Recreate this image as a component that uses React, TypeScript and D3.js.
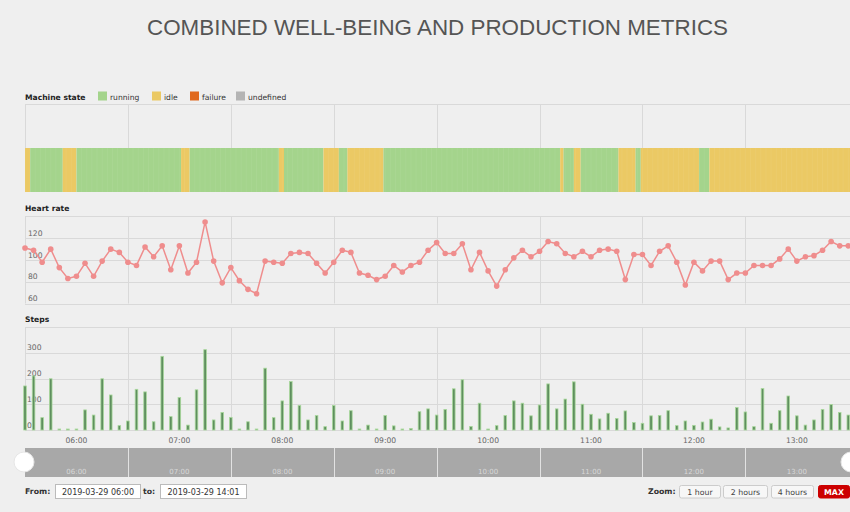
import React from 'react';
import * as d3 from 'd3';

const W = 850;
const H = 512;
const START = new Date(2019, 2, 29, 6, 0);
const END = new Date(2019, 2, 29, 14, 1);
const STEP_MIN = 5;

const heartRate = [111, 109, 98, 110, 93, 83, 85, 97, 85, 99, 110, 107, 98, 95, 112, 103, 113, 91, 113, 88, 98, 135, 99, 79, 93, 81, 73, 69, 99, 98, 97, 106, 107, 106, 97, 88, 98, 109, 107, 88, 86, 82, 85, 95, 89, 95, 98, 109, 116, 106, 106, 115, 91, 107, 90, 76, 91, 102, 109, 103, 108, 117, 115, 106, 103, 108, 103, 109, 110, 108, 82, 105, 105, 95, 108, 113, 98, 77, 98, 90, 99, 99, 82, 88, 88, 95, 95, 95, 101, 110, 99, 103, 104, 109, 117, 113, 113];

const steps = [171, 210, 48, 199, 0, 0, 0, 78, 58, 199, 136, 17, 35, 158, 148, 32, 286, 52, 126, 19, 156, 312, 39, 68, 49, 0, 32, 0, 240, 48, 113, 188, 95, 39, 56, 13, 95, 35, 75, 0, 19, 0, 56, 16, 0, 6, 71, 82, 58, 80, 160, 195, 14, 104, 0, 17, 56, 113, 104, 55, 97, 179, 82, 120, 187, 100, 61, 43, 65, 45, 74, 29, 26, 55, 56, 75, 17, 35, 18, 31, 42, 12, 8, 87, 70, 13, 161, 26, 75, 132, 55, 19, 39, 80, 99, 68, 58];

// machine state segments: start minute after 06:00 and state
const stateStartMinutes = [0, 3, 22, 30, 91, 96, 148, 151, 174, 183, 188, 209, 312, 314, 320, 324, 346, 356, 359, 393, 399];
const stateValues = ['idle', 'running', 'idle', 'running', 'idle', 'running', 'idle', 'running', 'idle', 'running', 'idle', 'running', 'idle', 'running', 'idle', 'running', 'idle', 'running', 'idle', 'running', 'idle'];

const legendStates = ['running', 'idle', 'failure', 'undefined'];
const stateColors = ['#a4d48c', '#ebc964', '#e0691e', '#b4b4b4'];

const hrTicks = [60, 80, 100, 120];
const stepTicks = [0, 100, 200, 300];
const zoomButtons = ['1 hour', '2 hours', '4 hours', 'MAX'];
const fromText = '2019-03-29 06:00';
const toText = '2019-03-29 14:01';
const titleText = 'COMBINED WELL-BEING AND PRODUCTION METRICS';

const FONT = '"DejaVu Sans", Verdana, sans-serif';

export default function App() {
  const x = d3.scaleTime().domain([START, END]).range([25, 850]);
  const timeAt = (m: number) => d3.timeMinute.offset(START, m);
  const hours = d3.timeHour.range(START, d3.timeHour.offset(START, 8));
  const gridHours = hours.slice(1);
  const fmt = d3.timeFormat('%H:%M');
  const colorOf = d3.scaleOrdinal<string, string>().domain(legendStates).range(stateColors);

  const ms = { top: 104.5, barTop: 148, bottom: 192 };
  const yHr = d3.scaleLinear().domain([60, 140]).range([303.5, 216.5]);
  const ySt = d3.scaleLinear().domain([0, 400]).range([430, 327]);
  const nav = { top: 448, bottom: 477 };

  const hrPts = heartRate.map((v, i) => [x(timeAt(i * STEP_MIN)), yHr(v)] as [number, number]);
  const line = d3.line()(hrPts) || '';

  const segs = stateStartMinutes.map((s, i) => {
    const e = i + 1 < stateStartMinutes.length ? stateStartMinutes[i + 1] : 481;
    return { x0: x(timeAt(s)), x1: x(timeAt(e)), state: stateValues[i] };
  });
  const stripes = d3.range(0, 481, 3).map((m) => x(timeAt(m)));

  const gridColor = '#d9d9d9';
  const labelColor = '#666';

  const legendX = [98, 152, 190, 236];

  return (
    <svg width={W} height={H} style={{ position: 'absolute', left: 0, top: 0, background: '#efefef' }} fontFamily={FONT}>
      <rect x={0} y={0} width={W} height={H} fill="#efefef" />
      <text x={437.5} y={35} textAnchor="middle" fontFamily='"Liberation Sans", Arial, sans-serif' fontSize={22.4} fill="#555">{titleText}</text>

      {/* Machine state */}
      <text x={25} y={99.5} fontSize={7.6} fontWeight="bold" fill="#222">Machine state</text>
      {legendStates.map((s, i) => (
        <g key={s}>
          <rect x={legendX[i]} y={91.5} width={9} height={9} fill={colorOf(s)} />
          <text x={legendX[i] + 12} y={99.5} fontSize={7.6} fill="#333">{s}</text>
        </g>
      ))}
      <line x1={25} x2={850} y1={ms.top} y2={ms.top} stroke={gridColor} />
      <line x1={25.5} x2={25.5} y1={ms.top} y2={ms.bottom} stroke={gridColor} />
      {gridHours.map((h) => (
        <line key={'mg' + h.getTime()} x1={Math.round(x(h)) + 0.5} x2={Math.round(x(h)) + 0.5} y1={ms.top} y2={ms.bottom} stroke={gridColor} />
      ))}
      {segs.map((s, i) => (
        <rect key={'seg' + i} x={s.x0} y={ms.barTop} width={s.x1 - s.x0} height={ms.bottom - ms.barTop} fill={colorOf(s.state)} />
      ))}
      {stripes.map((sx, i) => (
        <line key={'st' + i} x1={sx} x2={sx} y1={ms.barTop} y2={ms.bottom} stroke="#fff" strokeOpacity={0.1} strokeWidth={0.6} />
      ))}

      {/* Heart rate */}
      <text x={25} y={211} fontSize={7.6} fontWeight="bold" fill="#222">Heart rate</text>
      <line x1={25} x2={850} y1={216.5} y2={216.5} stroke={gridColor} />
      <line x1={25.5} x2={25.5} y1={216.5} y2={303.5} stroke={gridColor} />
      {hrTicks.map((t) => (
        <g key={'hr' + t}>
          <line x1={25} x2={850} y1={Math.round(yHr(t)) + 0.5} y2={Math.round(yHr(t)) + 0.5} stroke={gridColor} />
          <text x={28} y={yHr(t) - 2.5} fontSize={7.6} fill={labelColor}>{t}</text>
        </g>
      ))}
      {gridHours.map((h) => (
        <line key={'hg' + h.getTime()} x1={Math.round(x(h)) + 0.5} x2={Math.round(x(h)) + 0.5} y1={216.5} y2={303.5} stroke={gridColor} />
      ))}
      <path d={line} fill="none" stroke="#ef8d8d" strokeWidth={1.5} />
      {hrPts.map((p, i) => (
        <circle key={'hp' + i} cx={p[0]} cy={p[1]} r={2.8} fill="#ef8d8d" />
      ))}

      {/* Steps */}
      <text x={25} y={322} fontSize={7.6} fontWeight="bold" fill="#222">Steps</text>
      <line x1={25} x2={850} y1={327.5} y2={327.5} stroke={gridColor} />
      <line x1={25.5} x2={25.5} y1={327.5} y2={430} stroke={gridColor} />
      {stepTicks.map((t) => (
        <g key={'sg' + t}>
          <line x1={25} x2={850} y1={Math.round(ySt(t)) + 0.5} y2={Math.round(ySt(t)) + 0.5} stroke={gridColor} />
          <text x={27} y={ySt(t) - 2.5} fontSize={7.6} fill={labelColor}>{t}</text>
        </g>
      ))}
      {gridHours.map((h) => (
        <line key={'sgv' + h.getTime()} x1={Math.round(x(h)) + 0.5} x2={Math.round(x(h)) + 0.5} y1={327.5} y2={430} stroke={gridColor} />
      ))}
      {steps.map((v, i) => {
        const cx = x(timeAt(i * STEP_MIN));
        const top = Math.min(ySt(v), 429);
        return (
          <rect key={'sb' + i} x={cx - 1.3} y={top} width={2.6} height={430 - top} fill="#5f8f5f" stroke="#a9d99c" strokeWidth={0.8} />
        );
      })}

      {/* x axis labels */}
      {hours.map((h) => (
        <text key={'xl' + h.getTime()} x={x(d3.timeMinute.offset(h, 30))} y={443} textAnchor="middle" fontSize={7.6} fill={labelColor}>{fmt(h)}</text>
      ))}

      {/* Navigator */}
      <rect x={25} y={nav.top} width={825} height={nav.bottom - nav.top} fill="#a8a8a8" />
      {gridHours.map((h) => (
        <line key={'ng' + h.getTime()} x1={Math.round(x(h)) + 0.5} x2={Math.round(x(h)) + 0.5} y1={nav.top} y2={nav.bottom} stroke="#e2e2e2" />
      ))}
      {hours.map((h) => (
        <text key={'nl' + h.getTime()} x={x(d3.timeMinute.offset(h, 30))} y={474} textAnchor="middle" fontSize={7} fill="#d8d8d8">{fmt(h)}</text>
      ))}
      <circle cx={24} cy={462} r={10} fill="#fff" stroke="#e6e6e6" />
      <circle cx={851} cy={462} r={10} fill="#fff" stroke="#e6e6e6" />

      {/* Range inputs */}
      <text x={25} y={494} fontSize={7.8} fontWeight="bold" fill="#333">From:</text>
      <rect x={55.5} y={484.5} width={85} height={14} fill="#fff" stroke="#bbb" />
      <text x={98} y={494.5} textAnchor="middle" fontSize={8} fill="#333">{fromText}</text>
      <text x={143} y={494} fontSize={7.8} fontWeight="bold" fill="#333">to:</text>
      <rect x={160.5} y={484.5} width={86} height={14} fill="#fff" stroke="#bbb" />
      <text x={203.5} y={494.5} textAnchor="middle" fontSize={8} fill="#333">{toText}</text>

      {/* Zoom buttons */}
      <text x={648} y={494} fontSize={7.8} fontWeight="bold" fill="#333">Zoom:</text>
      {zoomButtons.map((b, i) => {
        const bx = [679, 723, 771, 818][i];
        const bw = [41, 44, 42, 31][i];
        const active = b === 'MAX';
        return (
          <g key={b}>
            <rect x={bx + 0.5} y={485.5} width={bw} height={12.5} rx={2} fill={active ? '#cc0000' : '#f7f7f7'} stroke={active ? '#cc0000' : '#cccccc'} />
            <text x={bx + bw / 2 + 0.5} y={494.5} textAnchor="middle" fontSize={7.8} fontWeight={active ? 'bold' : 'normal'} fill={active ? '#fff' : '#444'}>{b}</text>
          </g>
        );
      })}
    </svg>
  );
}
